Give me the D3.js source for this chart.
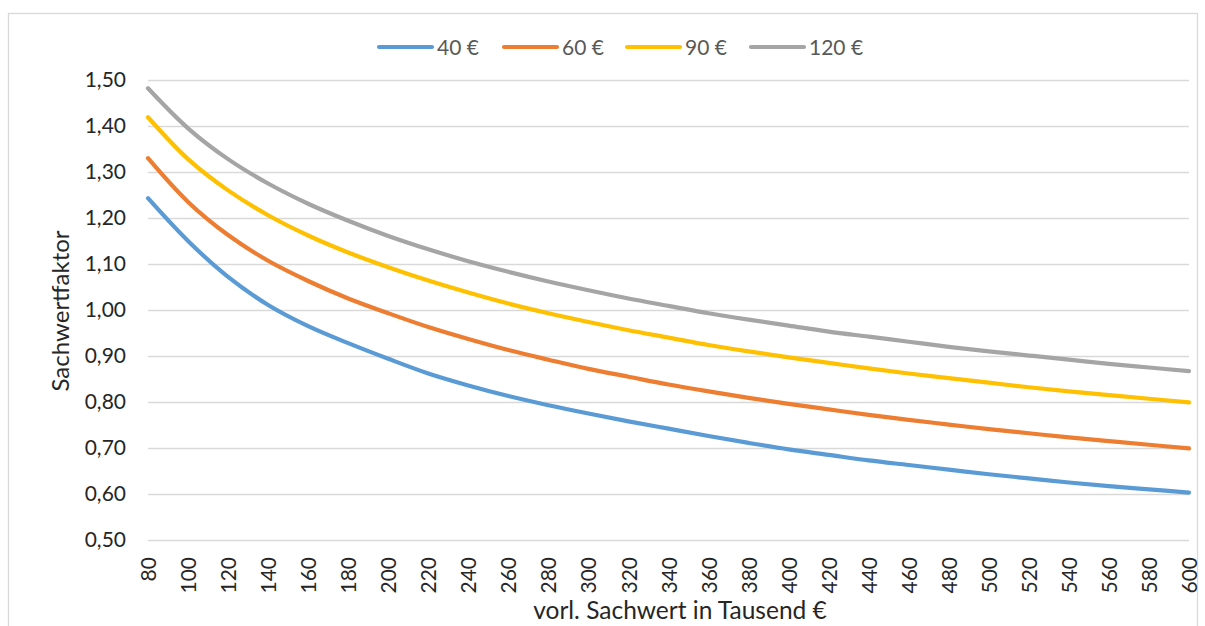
<!DOCTYPE html>
<html lang="de">
<head>
<meta charset="utf-8">
<script src="https://cdn.jsdelivr.net/npm/d3@7"></script>
<style>
  html, body { margin: 0; padding: 0; background: #fff; }
  svg { display: block; font-family: Lato, "Noto Sans", sans-serif; }
</style>
</head>
<body>
<svg id="chart" width="1205" height="626"></svg>
<script>
// vorl. Sachwert in Tausend €
const sachwert = [80, 100, 120, 140, 160, 180, 200, 220, 240, 260, 280, 300, 320, 340,
                  360, 380, 400, 420, 440, 460, 480, 500, 520, 540, 560, 580, 600];

// Sachwertfaktor je Bodenrichtwert
const faktor40 = [1.243, 1.150, 1.072, 1.011, 0.965, 0.928, 0.894, 0.862, 0.836, 0.813,
                  0.793, 0.775, 0.758, 0.742, 0.726, 0.711, 0.697, 0.685, 0.673, 0.663,
                  0.653, 0.643, 0.634, 0.625, 0.617, 0.610, 0.603];
const faktor60 = [1.330, 1.235, 1.163, 1.107, 1.063, 1.025, 0.993, 0.963, 0.937, 0.913,
                  0.892, 0.872, 0.855, 0.838, 0.823, 0.809, 0.796, 0.784, 0.772, 0.761,
                  0.751, 0.741, 0.732, 0.723, 0.715, 0.707, 0.699];
const faktor90 = [1.419, 1.328, 1.260, 1.206, 1.162, 1.125, 1.093, 1.064, 1.038, 1.014,
                  0.993, 0.974, 0.956, 0.940, 0.924, 0.910, 0.897, 0.885, 0.873, 0.862,
                  0.852, 0.842, 0.832, 0.823, 0.815, 0.807, 0.799];
const faktor120 = [1.482, 1.395, 1.328, 1.275, 1.231, 1.194, 1.161, 1.132, 1.106, 1.083,
                   1.062, 1.043, 1.025, 1.009, 0.993, 0.979, 0.966, 0.953, 0.942, 0.931,
                   0.920, 0.910, 0.901, 0.892, 0.883, 0.875, 0.867];

const seriesNames = ["40 €", "60 €", "90 €", "120 €"];
const seriesColors = ["#5B9BD5", "#ED7D31", "#FFC000", "#A5A5A5"];
const yTicks = [0.5, 0.6, 0.7, 0.8, 0.9, 1.0, 1.1, 1.2, 1.3, 1.4, 1.5];

const series = [faktor40, faktor60, faktor90, faktor120].map((vals, i) => ({
  name: seriesNames[i],
  color: seriesColors[i],
  points: sachwert.map((x, j) => ({ x, y: vals[j] }))
}));

const svg = d3.select("#chart");
const plot = { left: 148, right: 1189, top: 80, bottom: 540 };

const x = d3.scaleLinear().domain([80, 600]).range([plot.left, plot.right]);
const y = d3.scaleLinear().domain([0.5, 1.5]).range([plot.bottom, plot.top]);

const de = d3.formatLocale({ decimal: ",", thousands: ".", grouping: [3], currency: ["", " €"] });
const fmtY = de.format(".2f");

// chart frame
svg.append("rect")
  .attr("x", 8.5).attr("y", 13.5)
  .attr("width", 1189).attr("height", 700)
  .attr("fill", "#fff").attr("stroke", "#d9d9d9").attr("stroke-width", 1.3);

// horizontal gridlines + y labels
const yAxis = d3.axisLeft(y).tickValues(yTicks).tickSize(-(plot.right - plot.left))
  .tickPadding(22).tickFormat(fmtY);
const gy = svg.append("g").attr("transform", `translate(${plot.left},0)`).call(yAxis);
gy.select(".domain").remove();
gy.selectAll(".tick line").attr("stroke", "#d9d9d9").attr("stroke-width", 1.5);
gy.selectAll(".tick text")
  .attr("fill", "#262626").attr("font-size", 21).attr("font-family", "Lato, sans-serif");

// x labels, rotated
const xAxis = d3.axisBottom(x).tickValues(sachwert).tickSize(0).tickFormat(d3.format("d"));
const gx = svg.append("g").attr("transform", `translate(0,${plot.bottom})`).call(xAxis);
gx.select(".domain").remove();
gx.selectAll(".tick text")
  .attr("fill", "#262626").attr("font-size", 21).attr("font-family", "Lato, sans-serif")
  .attr("text-anchor", "end")
  .attr("transform", "rotate(-90)")
  .attr("x", -17).attr("y", 0).attr("dy", "0.36em");

// series lines, smoothed through every point
const line = d3.line().x(d => x(d.x)).y(d => y(d.y)).curve(d3.curveCatmullRom.alpha(0.5));
svg.append("g").selectAll("path").data(series).join("path")
  .attr("d", d => line(d.points))
  .attr("fill", "none")
  .attr("stroke", d => d.color)
  .attr("stroke-width", 4.2)
  .attr("stroke-linecap", "round")
  .attr("stroke-linejoin", "round");

// axis titles
svg.append("text")
  .attr("x", 680).attr("y", 619)
  .attr("text-anchor", "middle")
  .attr("font-size", 24.5).attr("fill", "#262626")
  .text("vorl. Sachwert in Tausend €");

svg.append("text")
  .attr("transform", "translate(69,311) rotate(-90)")
  .attr("text-anchor", "middle")
  .attr("font-size", 24).attr("fill", "#262626")
  .text("Sachwertfaktor");

// legend
const legendX = [378, 503, 626, 750];
const legend = svg.append("g").selectAll("g").data(series).join("g")
  .attr("transform", (d, i) => `translate(${legendX[i]},47)`);
legend.append("line")
  .attr("x1", 1).attr("x2", 54).attr("y1", 0).attr("y2", 0)
  .attr("stroke", d => d.color).attr("stroke-width", 4.2).attr("stroke-linecap", "round");
legend.append("text")
  .attr("x", 59).attr("y", 0).attr("dy", "0.36em")
  .attr("font-size", 21).attr("fill", "#595959")
  .text(d => d.name);
</script>
</body>
</html>
